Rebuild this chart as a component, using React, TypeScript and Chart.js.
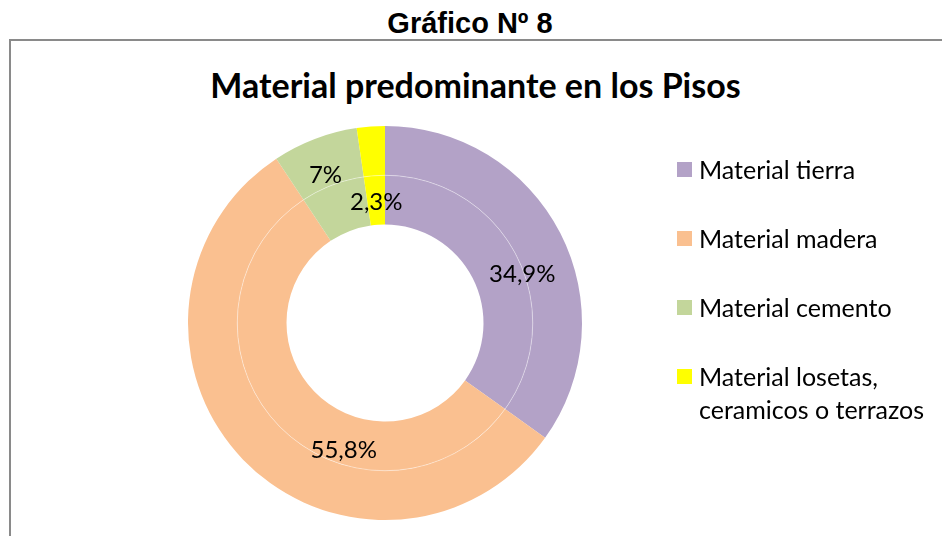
import React, { useEffect, useRef } from "react";
import { Chart, registerables } from "chart.js";
Chart.register(...registerables);

const categories = ["Material tierra", "Material madera", "Material cemento", "Material losetas, ceramicos o terrazos"];
const legendLines = [["Material tierra"], ["Material madera"], ["Material cemento"], ["Material losetas,", "ceramicos o terrazos"]];
const values = [34.9, 55.8, 7, 2.3];
const valueLabels = ["34,9%", "55,8%", "7%", "2,3%"];
const colors = ["#B3A2C7", "#FAC090", "#C3D69B", "#FFFF00"];
// label placement inside the slice: fraction along the slice angle and of the outer radius
const labelAngleFrac = [0.56, 0.36, 0.46, 0.5];
const labelRadiusFrac = [0.74, 0.68, 0.81, 0.615];

const FONT = "Lato, 'Open Sans', sans-serif";

const labelPlugin = {
  id: "sliceLabels",
  afterDatasetsDraw(chart: any) {
    const ctx = chart.ctx;
    const meta = chart.getDatasetMeta(0);
    if (!meta || !meta.data.length) return;
    // faint separator between the two rings
    const a0 = meta.data[0].getProps(["x", "y", "innerRadius"], true);
    ctx.save();
    ctx.strokeStyle = "rgba(255,255,255,0.4)";
    ctx.lineWidth = 1;
    ctx.beginPath();
    ctx.arc(a0.x, a0.y, a0.innerRadius, 0, Math.PI * 2);
    ctx.stroke();
    ctx.fillStyle = "#000";
    ctx.font = `24px ${FONT}`;
    ctx.textAlign = "center";
    ctx.textBaseline = "middle";
    meta.data.forEach((arc: any, i: number) => {
      const p = arc.getProps(["x", "y", "startAngle", "endAngle", "outerRadius"], true);
      const ang = p.startAngle + (p.endAngle - p.startAngle) * labelAngleFrac[i];
      const r = p.outerRadius * labelRadiusFrac[i];
      ctx.fillText(valueLabels[i], p.x + Math.cos(ang) * r, p.y + Math.sin(ang) * r);
    });
    ctx.restore();
  },
};

export default function App() {
  const ref = useRef<HTMLCanvasElement>(null);
  useEffect(() => {
    document.body.style.margin = "0";
    const chart = new Chart(ref.current!, {
      type: "doughnut",
      data: {
        labels: categories,
        datasets: [
          { data: values, backgroundColor: colors, borderWidth: 0 },
          { data: values, backgroundColor: colors, borderWidth: 0 },
        ],
      },
      options: {
        animation: false,
        responsive: false,
        cutout: "50%",
        layout: { padding: { left: 188, right: 360, top: 126, bottom: 16 } },
        plugins: { legend: { display: false }, tooltip: { enabled: false }, title: { display: false } },
      },
      plugins: [labelPlugin],
    });
    return () => chart.destroy();
  }, []);

  return (
    <div style={{ position: "fixed", left: 0, top: 0, width: 942, height: 536, overflow: "hidden", background: "#fff" }}>
      <div
        style={{
          position: "absolute",
          left: 0,
          width: 940,
          top: 7,
          textAlign: "center",
          fontFamily: "'Liberation Sans', Arial, sans-serif",
          fontWeight: "bold",
          fontSize: 29,
          lineHeight: "33px",
          color: "#000",
        }}
      >
        Gráfico Nº 8
      </div>
      <div
        style={{
          position: "absolute",
          left: 9,
          top: 39,
          width: 960,
          height: 560,
          border: "2px solid #8a8a8a",
          boxSizing: "border-box",
        }}
      />
      <div
        style={{
          position: "absolute",
          left: 0,
          width: 951,
          top: 64,
          textAlign: "center",
          fontFamily: FONT,
          fontWeight: "bold",
          fontSize: 34,
          lineHeight: "42px",
          color: "#000",
        }}
      >
        Material predominante en los Pisos
      </div>
      <canvas ref={ref} width={942} height={536} style={{ position: "absolute", left: 0, top: 0 }} />
      <div style={{ position: "absolute", left: 677, top: 153, fontFamily: FONT, fontSize: 25, color: "#000" }}>
        {legendLines.map((lines, i) => (
          <div key={i} style={{ display: "flex", alignItems: "flex-start", marginBottom: 36 }}>
            <div style={{ width: 15, height: 15, background: colors[i], marginTop: 9, marginRight: 7, flex: "none" }} />
            <div style={{ lineHeight: "33px" }}>
              {lines.map((l, j) => (
                <div key={j}>{l}</div>
              ))}
            </div>
          </div>
        ))}
      </div>
    </div>
  );
}
